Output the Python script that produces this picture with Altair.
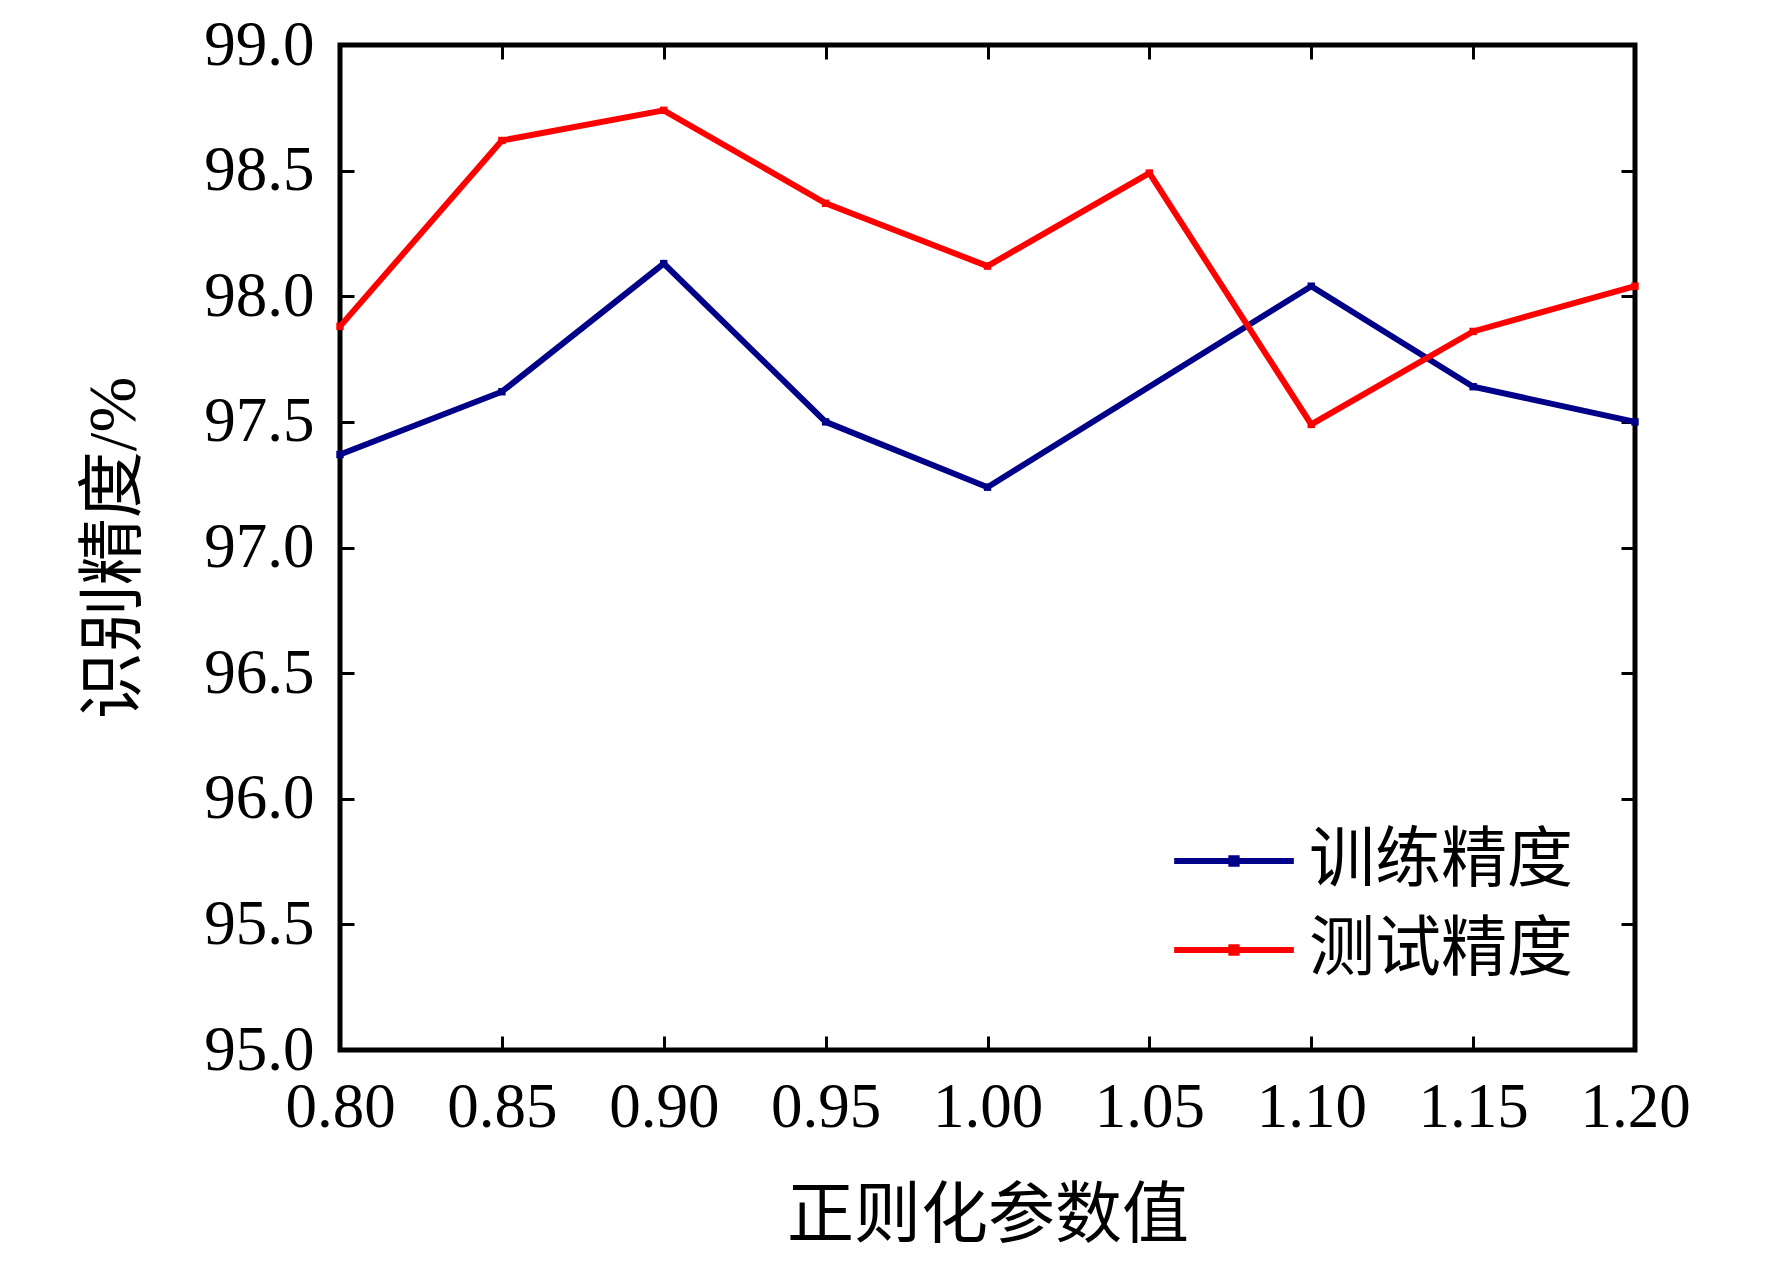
import altair as alt
import pandas as pd

x_train = [0.80, 0.85, 0.90, 0.95, 1.00, 1.10, 1.15, 1.20]
y_train = [97.37, 97.62, 98.13, 97.50, 97.24, 98.04, 97.64, 97.50]
x_test = [0.80, 0.85, 0.90, 0.95, 1.00, 1.05, 1.10, 1.15, 1.20]
y_test = [97.88, 98.62, 98.74, 98.37, 98.12, 98.49, 97.49, 97.86, 98.04]
series = ["训练精度", "测试精度"]
colors = ["#000088", "#ff0000"]
x_ticks = [0.80, 0.85, 0.90, 0.95, 1.00, 1.05, 1.10, 1.15, 1.20]
y_ticks = [95.0, 95.5, 96.0, 96.5, 97.0, 97.5, 98.0, 98.5, 99.0]

df = pd.concat([
    pd.DataFrame({"x": x_train, "y": y_train, "s": series[0]}),
    pd.DataFrame({"x": x_test, "y": y_test, "s": series[1]}),
])

FONT = "Liberation Serif, Noto Sans CJK SC"
W, H = 1295, 1005
TICK = 14

xscale = alt.Scale(domain=[0.8, 1.2], nice=False, zero=False)
yscale = alt.Scale(domain=[95, 99], nice=False, zero=False)
cscale = alt.Scale(domain=series, range=colors)

xb = alt.Axis(values=x_ticks, format=".2f", orient="bottom", offset=-TICK, tickSize=TICK,
              domain=False, grid=False, labelPadding=26, labelOverlap=False, labelFlush=False,
              labelBound=False, title="正则化参数值", titlePadding=44)
yl = alt.Axis(values=y_ticks, format=".1f", orient="left", offset=-TICK, tickSize=TICK,
              domain=False, grid=False, labelPadding=26, labelOverlap=False, labelFlush=False,
              labelBound=False, title="识别精度/%", titlePadding=55)
xt = alt.Axis(values=x_ticks, orient="top", offset=-TICK, tickSize=TICK, domain=False,
              grid=False, labels=False, title=None)
yr = alt.Axis(values=y_ticks, orient="right", offset=-TICK, tickSize=TICK, domain=False,
              grid=False, labels=False, title=None)

legend = alt.Legend(
    title=None, orient="none", legendX=847, legendY=769,
    symbolType="M-1.36,0H1.36M-0.06,-0.06H0.06V0.06H-0.06Z",
    symbolSize=7744, symbolStrokeWidth=6, labelFontSize=66, labelFont=FONT,
    labelOffset=28, rowPadding=9, labelColor="black", labelLimit=500,
)

base = alt.Chart(df)

lines = base.mark_line(strokeWidth=6).encode(
    x=alt.X("x:Q", scale=xscale, axis=xb),
    y=alt.Y("y:Q", scale=yscale, axis=yl),
    color=alt.Color("s:N", scale=cscale, legend=legend, sort=series),
    detail="s:N",
)
pts = base.mark_point(shape="square", filled=True, size=55, opacity=1).encode(
    x=alt.X("x:Q", scale=xscale, axis=xt),
    y=alt.Y("y:Q", scale=yscale, axis=yr),
    color=alt.Color("s:N", scale=cscale, legend=None, sort=series),
)

chart = alt.layer(lines, pts).properties(
    width=W, height=H,
    autosize=alt.AutoSizeParams(type="none"),
    padding={"left": 332, "top": 37, "right": 100, "bottom": 204},
    background="white",
).configure_view(
    stroke="black", strokeWidth=5,
).configure_axis(
    labelFont=FONT, labelFontSize=63, labelColor="black",
    titleFont=FONT, titleFontSize=67, titleColor="black", titleFontWeight="normal",
    tickColor="black", tickWidth=3,
)

chart.save("out.html", embed_options={"renderer": "svg", "actions": False})
